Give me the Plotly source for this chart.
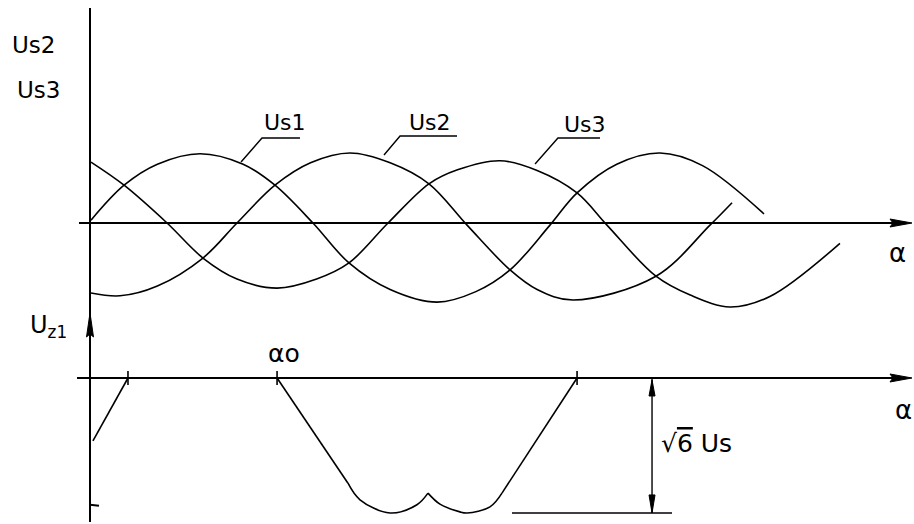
import numpy as np
import plotly.graph_objects as go

# Electrical angle alpha in degrees; phase voltages in units of their amplitude.
us1_alpha = [0.8, 27.8, 55.0, 89.8, 125.0, 151.0, 182.0, 211.4, 245.0, 283.3, 315.0,
             342.9, 375.5, 397.6, 430.0, 465.3, 500.0, 550.2]
us1_value = [0.04, 0.54, 0.84, 0.99, 0.84, 0.54, 0.0, -0.57, -0.95, -1.13, -0.98,
             -0.67, -0.03, 0.43, 0.84, 1.0, 0.82, 0.13]

us2_alpha = [0.8, 24.5, 55.0, 92.2, 120.0, 151.0, 180.0, 212.2, 245.0, 276.7, 307.8,
             342.9, 365.0, 394.3, 462.0, 506.1, 524.1]
us2_value = [-1.0, -1.04, -0.9, -0.5, 0.0, 0.54, 0.86, 1.0, 0.86, 0.56, -0.03,
             -0.67, -0.95, -1.1, -0.76, -0.03, 0.29]

us3_alpha = [0.8, 27.8, 62.9, 92.2, 120.0, 152.7, 185.0, 211.4, 243.3, 276.7, 300.0,
             334.7, 365.0, 397.6, 422.0, 462.0, 490.0, 522.4, 555.0, 612.2]
us3_value = [0.87, 0.54, 0.0, -0.5, -0.8, -0.93, -0.8, -0.57, 0.0, 0.56, 0.76,
             0.89, 0.75, 0.43, -0.03, -0.76, -1.03, -1.2, -1.05, -0.29]

# Line-to-line voltage Uz1 (units of Us): straight flanks and two rounded caps
uz1_ramp_alpha = [2.4, 31.0]
uz1_ramp_value = [-1.14, 0.0]
uz1_fall_alpha = [152.7, 210.6]
uz1_fall_value = [0.0, -1.91]
uz1_cap1_alpha = [210.6, 220.4, 244.9, 266.9, 275.9]
uz1_cap1_value = [-1.91, -2.21, -2.45, -2.30, -2.09]
uz1_cap2_alpha = [275.9, 285.7, 302.0, 307.8, 326.5, 336.3]
uz1_cap2_value = [-2.09, -2.29, -2.43, -2.45, -2.34, -2.09]
uz1_rise_alpha = [336.3, 397.6]
uz1_rise_value = [-2.09, 0.0]

alpha_ticks = [31.0, 152.7, 397.6]      # switching angles marked on the lower axis
alpha_0 = 152.7
peak_uz = np.sqrt(6)                     # sqrt(6) * Us

W, H = 914, 524
X_RANGE = [-73.47, 672.65]
Y_TOP_RANGE = [-4.3, 3.186]
Y_LOW_RANGE = [-2.65, 6.86]
INK = "black"
FONT = "DejaVu Sans"

fig = go.Figure()


def curve(xs, ys, yaxis="y", spline=True, width=1.6):
    fig.add_trace(go.Scatter(
        x=xs, y=ys, yaxis=yaxis, mode="lines", hoverinfo="skip",
        line=dict(color=INK, width=width, shape="spline" if spline else "linear", smoothing=1.0),
    ))


# Three phase voltages
curve(us1_alpha, us1_value)
curve(us2_alpha, us2_value)
curve(us3_alpha, us3_value)

# Uz1 waveform
curve(uz1_ramp_alpha, uz1_ramp_value, "y2", spline=False)
curve(uz1_fall_alpha, uz1_fall_value, "y2", spline=False)
curve(uz1_cap1_alpha, uz1_cap1_value, "y2")
curve(uz1_cap2_alpha, uz1_cap2_value, "y2")
curve(uz1_rise_alpha, uz1_rise_value, "y2", spline=False)

# Leader lines for the phase labels
leaders = [
    ([123.3, 140.4, 171.4], [0.871, 1.214, 1.214]),
    ([240.0, 253.1, 299.6], [0.971, 1.243, 1.243]),
    ([363.3, 382.0, 416.3], [0.843, 1.214, 1.214]),
]
for lx, ly in leaders:
    curve(lx, ly, spline=False, width=1.4)

shapes = []
# vertical axis through both panels
shapes.append(dict(type="line", xref="x", yref="paper", x0=0, x1=0,
                   y0=1 - 522 / H, y1=1 - 8 / H, line=dict(color=INK, width=2)))
# horizontal axes
shapes.append(dict(type="line", xref="x", yref="y", x0=-9, x1=660, y0=0, y1=0,
                   line=dict(color=INK, width=2)))
shapes.append(dict(type="line", xref="x", yref="y2", x0=-10.6, x1=660, y0=0, y1=0,
                   line=dict(color=INK, width=2)))


def head(xa, ya, yref, path):
    shapes.append(dict(type="path", xref="x", yref=yref, xsizemode="pixel", ysizemode="pixel",
                       xanchor=xa, yanchor=ya, path=path,
                       fillcolor=INK, line=dict(color=INK, width=1)))


# arrowheads of the alpha axes
head(671, 0, "y", "M0,0 L-22,4 L-19,0 L-22,-4 Z")
head(671, 0, "y2", "M0,0 L-22,4 L-19,0 L-22,-4 Z")
# arrowhead of the Uz1 axis
head(0, 1.18, "y2", "M0,0 L3.5,-24 L0,-21 L-3.5,-24 Z")

# tick marks on the lower alpha axis
for t in alpha_ticks:
    shapes.append(dict(type="line", xref="x", yref="y2", ysizemode="pixel", yanchor=0,
                       x0=t, x1=t, y0=-7, y1=7, line=dict(color=INK, width=1.6)))
# small tick on the lower end of the vertical axis
shapes.append(dict(type="line", xref="x", yref="y2", xsizemode="pixel", xanchor=0,
                   x0=0, x1=9, y0=-2.30, y1=-2.32, line=dict(color=INK, width=2)))

# dimension for sqrt(6) Us
dim_x = 458.8
shapes.append(dict(type="line", xref="x", yref="y2", x0=344.5, x1=475.1,
                   y0=-peak_uz, y1=-peak_uz, line=dict(color=INK, width=1.6)))
shapes.append(dict(type="line", xref="x", yref="y2", x0=dim_x, x1=dim_x,
                   y0=0, y1=-peak_uz, line=dict(color=INK, width=1.4)))
head(dim_x, 0, "y2", "M0,-2 L3,-18 L-3,-18 Z")
head(dim_x, -peak_uz, "y2", "M0,0 L3,18 L-3,18 Z")


def label(text, x, y, yref="y", size=22):
    return dict(text=text, x=x, y=y, xref="x", yref=yref, showarrow=False,
                font=dict(family=FONT, size=size, color=INK), xanchor="center", yanchor="middle")


annotations = [
    label("Us2", -46.5, 2.54, size=23),
    label("Us3", -42.4, 1.90, size=23),
    label("Us1", 159.2, 1.43, size=22),
    label("Us2", 277.6, 1.43, size=22),
    label("Us3", 404.1, 1.41, size=22),
    label("α", 658.8, -0.43, size=26),
    label("α", 664.0, -0.58, yref="y2", size=26),
    label("αo", alpha_0 + 5.5, 0.45, yref="y2", size=25),
    label("U<sub>z1</sub>", -34.0, 0.93, yref="y2", size=24),
    label("√<span style='text-decoration:overline'>6</span> Us", 495.5, -1.18, yref="y2", size=25),
]

fig.update_layout(
    width=W, height=H,
    margin=dict(l=0, r=0, t=0, b=0),
    paper_bgcolor="white", plot_bgcolor="white",
    showlegend=False,
    xaxis=dict(range=X_RANGE, visible=False, fixedrange=True),
    yaxis=dict(range=Y_TOP_RANGE, visible=False, domain=[0, 1], fixedrange=True),
    yaxis2=dict(range=Y_LOW_RANGE, visible=False, overlaying="y", anchor="x", fixedrange=True),
    shapes=shapes,
    annotations=annotations,
)

fig.write_html("out.html", config={"displayModeBar": False})
